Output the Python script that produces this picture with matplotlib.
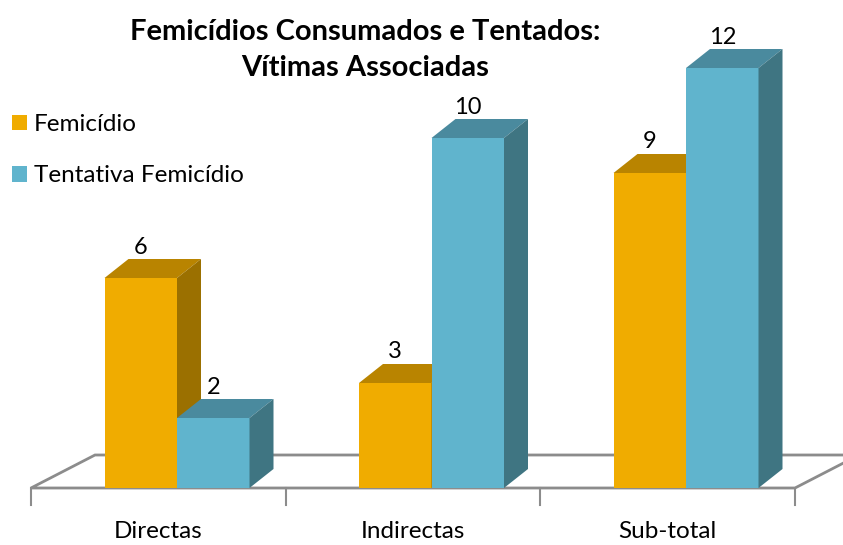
import matplotlib.pyplot as plt
from matplotlib.patches import Polygon

categorias = ['Directas', 'Indirectas', 'Sub-total']
series = ['Femicídio', 'Tentativa Femicídio']
femicidio = [6, 3, 9]
tentativa = [2, 10, 12]
titulo = 'Femicídios Consumados e Tentados:\nVítimas Associadas'

# colores: frente, tapa, lado
colores = [('#F0AC00', '#B98400', '#9B7000'),
           ('#60B4CD', '#4A8A9E', '#3F7582')]

plt.rcParams['font.family'] = ['Lato', 'DejaVu Sans']

W, H = 843, 545
fig = plt.figure(figsize=(W / 100, H / 100), dpi=100)
ax = fig.add_axes([0, 0, 1, 1])

# escala en pixeles: centro del grupo 0 en x=177, base en y=488
px_cat = 254.5
px_unit = 35.0
x0, y0 = 177, 488
ax.set_xlim((0 - x0) / px_cat, (W - x0) / px_cat)
ax.set_ylim((y0 - H) / px_unit, y0 / px_unit)
ax.axis('off')

ancho = 72.5 / px_cat
dx, dy = 24 / px_cat, 19 / px_unit

# suelo
fx0 = (31 - x0) / px_cat
fx1 = (795 - x0) / px_cat
fdx, fdy = 64 / px_cat, 33 / px_unit
suelo = Polygon([(fx0, 0), (fx1, 0), (fx1 + fdx, fdy), (fx0 + fdx, fdy)],
                closed=True, facecolor='white', edgecolor='#8C8C8C',
                linewidth=2, zorder=1)
ax.add_patch(suelo)
tick_len = 17 / px_unit
for i in range(len(categorias) + 1):
    ax.plot([fx0 + i, fx0 + i], [0, -tick_len], color='#8C8C8C', lw=1.5, zorder=1)
for i, c in enumerate(categorias):
    ax.text(fx0 + i + 0.5, -44 / px_unit, c, ha='center', va='center', fontsize=17.5)

z = 2
handles = []
for i in range(len(categorias)):
    for s, valores in enumerate([femicidio, tentativa]):
        v = valores[i]
        left = i - ancho + s * ancho
        frente, tapa, lado = colores[s]
        b = ax.bar(left, v, width=ancho, align='edge', color=frente,
                   linewidth=0, zorder=z)
        if i == 0:
            handles.append(b)
        ax.add_patch(Polygon([(left, v), (left + ancho, v),
                              (left + ancho + dx, v + dy), (left + dx, v + dy)],
                             closed=True, facecolor=tapa, lw=0, zorder=z))
        ax.add_patch(Polygon([(left + ancho, 0), (left + ancho + dx, dy),
                              (left + ancho + dx, v + dy), (left + ancho, v)],
                             closed=True, facecolor=lado, lw=0, zorder=z))
        ax.text(left + ancho / 2, v + 31 / px_unit, str(v), ha='center',
                va='center', fontsize=17, zorder=z + 1)
        z += 1

ax.legend(handles, series, loc='upper left', bbox_to_anchor=(-0.006, 0.822),
          frameon=False, fontsize=17.5, handlelength=0.6, handleheight=0.6,
          handletextpad=0.3, labelspacing=1.25, borderaxespad=0.3)

fig.text(365 / W, 1 - 50 / H, titulo, ha='center', va='center',
         fontsize=21, fontweight='bold', linespacing=1.5)

fig.savefig('out.png', dpi=100)
